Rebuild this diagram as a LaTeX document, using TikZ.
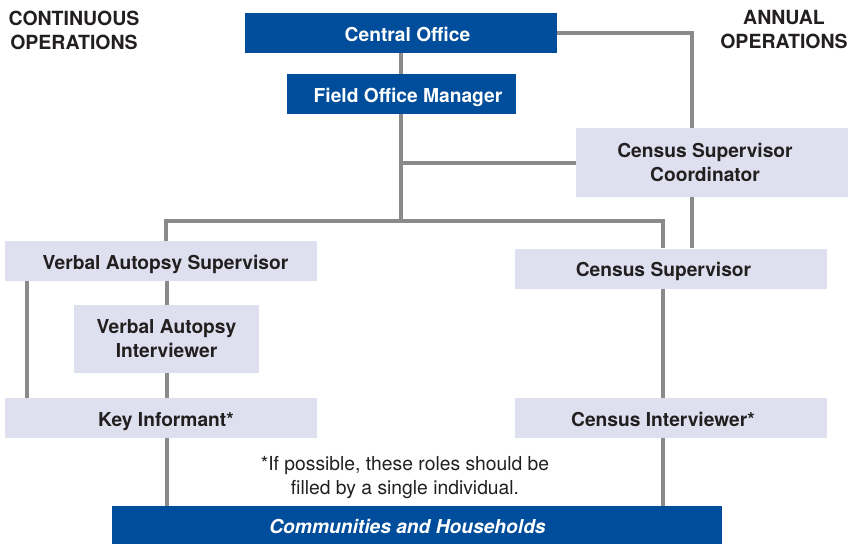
\documentclass[tikz,border=0pt]{standalone}
\usepackage{fontspec}
\setmainfont{TeX Gyre Heros}
\usetikzlibrary{positioning}
\definecolor{orgblue}{RGB}{0,78,155}
\definecolor{orgpale}{RGB}{223,224,239}
\definecolor{orglink}{RGB}{138,138,138}
\definecolor{orgtext}{RGB}{35,31,32}

\begin{document}
\begin{tikzpicture}[x=1pt,y=-1pt,on grid,
bluebox/.style ={rectangle ,fill =orgblue ,text=white ,oneline ,
  font=\fontsize{19.2}{24}\selectfont\bfseries ,minimum height =40pt},
palebox/.style ={rectangle ,fill =orgpale ,text=orgtext ,align=center ,
  font=\fontsize{19.2}{24}\selectfont\bfseries ,minimum width =312pt ,minimum height =40pt},
oneline/.style ={text height=16.5pt ,text depth=0pt},
link/.style ={draw=orglink ,line width=4pt},
heading/.style ={text=orgtext ,align=center ,font=\fontsize{19.5}{24}\selectfont\bfseries}
]
\useasboundingbox (0,0) rectangle (850,544);

\node[bluebox, minimum width=312pt] (co) at (401,33) {\hspace*{13pt}Central Office};
\node[bluebox, minimum width=229pt] (fom) [below=61pt of co] {\hspace*{14pt}Field Office Manager};
\node[palebox, minimum width=272pt, minimum height=69pt] (csc)
    [below right=129.5pt and 311pt of co] {\hspace*{-14pt}Census Supervisor\\\hspace*{-14pt}Coordinator};
\node[palebox, oneline] (vas) [below left=228pt and 240pt of co] {\hspace*{9pt}Verbal Autopsy Supervisor};
\node[palebox, oneline] (cs) [below right=235.5pt and 270pt of co] {\hspace*{-15pt}Census Supervisor};
\node[palebox, minimum width=185pt, minimum height=68pt] (vai)
    [below right=78pt and 5.5pt of vas] {Verbal Autopsy\\Interviewer};
\node[palebox, oneline] (ki) [below=157pt of vas] {\hspace*{10pt}Key Informant*};
\node[palebox, oneline] (ci) [below=149.5pt of cs] {\hspace*{-16pt}Census Interviewer*};
\node[bluebox, minimum width=610pt, minimum height=38pt,
    font=\fontsize{19.2}{24}\selectfont\bfseries\itshape] (ch)
    [below right=107pt and 256pt of ki] {\hspace*{-19pt}Communities and Households};

\node[heading] (cont) at (74,30) {CONTINUOUS\\OPERATIONS};
\node[heading] (annual) at (784,30) {ANNUAL\\OPERATIONS};
\node[text=orgtext, align=center, font=\fontsize{19.3}{24}\selectfont] (note)
    at (405,478) {*If possible, these roles should be\\filled by a single individual.};

% connectors
\coordinate (busl) at (166,221);
\coordinate (busr) at (663,221);
\draw[link] (co.south) -- (fom.north);
\draw[link] (fom.south) -- (fom.south |- busl);
\draw[link] (csc.west) -- (csc.west -| fom.south);
\draw[link] (co.east) -| ([xshift=-20pt]csc.north);
\draw[link] ([xshift=-20pt]csc.south) -- ([xshift=-20pt]csc.south |- cs.north);
\draw[link] (busl |- vas.north) -- (busl) -- (busr) -- (busr |- cs.north);
\draw[link] (vai.north) -- (vai.north |- vas.south);
\draw[link] (vai.south) -- (vai.south |- ki.north);
\draw[link] (vai.south |- ki.south) -- (vai.south |- ch.north);
\draw[link] ([xshift=22pt]vas.south west) -- ([xshift=22pt]ki.north west);
\draw[link] (busr |- cs.south) -- (busr |- ci.north);
\draw[link] (busr |- ci.south) -- (busr |- ch.north);
\end{tikzpicture}
\end{document}
